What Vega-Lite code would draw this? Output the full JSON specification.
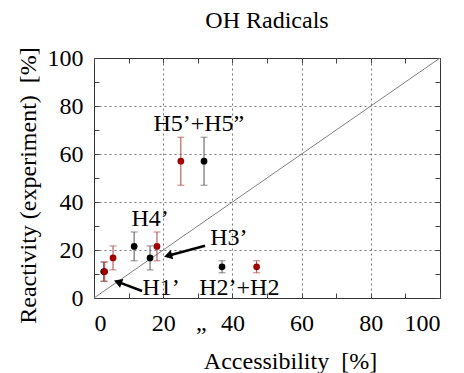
{
  "$schema": "https://vega.github.io/schema/vega-lite/v6.json",
  "width": 346,
  "height": 240,
  "autosize": "none",
  "padding": {"left": 94, "top": 58, "right": 24, "bottom": 75},
  "config": {
    "font": "Liberation Serif",
    "view": {"stroke": "#333333", "strokeWidth": 1},
    "axis": {"labelFont": "Liberation Serif", "titleFont": "Liberation Serif", "labelColor": "#000", "titleColor": "#000", "titleFontWeight": "normal"}
  },
  "title": {"text": "OH Radicals", "fontSize": 24, "font": "Liberation Serif", "fontWeight": "normal", "color": "#000", "baseline": "alphabetic", "offset": 0, "dy": 6},
  "datasets": {
    "pts": [
      {"s": "black", "x": 2.8, "y": 11, "lo": 7, "hi": 15},
      {"s": "red", "x": 3.1, "y": 11, "lo": 7, "hi": 15},
      {"s": "red", "x": 5.5, "y": 16.7, "lo": 11.7, "hi": 21.7},
      {"s": "black", "x": 11.6, "y": 21.5, "lo": 15.5, "hi": 27.5},
      {"s": "black", "x": 16.2, "y": 16.7, "lo": 11.7, "hi": 21.7},
      {"s": "red", "x": 18.2, "y": 21.5, "lo": 15.5, "hi": 27.5},
      {"s": "red", "x": 25.1, "y": 57, "lo": 47, "hi": 67},
      {"s": "black", "x": 31.8, "y": 57, "lo": 47, "hi": 67},
      {"s": "black", "x": 37, "y": 13, "lo": 10.5, "hi": 15.5},
      {"s": "red", "x": 47, "y": 13, "lo": 10.5, "hi": 15.5}
    ],
    "labels": [
      {"t": "H5’+H5”", "x": 30.3, "y": 69.5},
      {"t": "H4’", "x": 16.2, "y": 30.1},
      {"t": "H3’", "x": 39, "y": 22.2},
      {"t": "H1’", "x": 19.4, "y": 1.3},
      {"t": "H2’+H2", "x": 42, "y": 1.3},
      {"t": "„", "x": 31, "y": -13.5}
    ],
    "arrows": [
      {"x": 32.1, "y": 21.8, "x2": 21.4, "y2": 17.6, "a": 254.4},
      {"x": 13.9, "y": 2.9, "x2": 6.9, "y2": 6.7, "a": 290.8}
    ],
    "diag": [{"x": 0, "y": 0}, {"x": 100, "y": 100}]
  },
  "resolve": {"axis": {"x": "independent", "y": "independent"}},
  "layer": [
    {
      "data": {"name": "diag"},
      "mark": {"type": "line", "color": "#808080", "strokeWidth": 1},
      "encoding": {
        "x": {"field": "x", "type": "quantitative", "scale": {"domain": [0, 100], "nice": false, "zero": false},
              "axis": {"orient": "top", "values": [0,10,20,30,40,50,60,70,80,90,100], "labels": false, "grid": false, "domain": false, "tickSize": -5, "tickColor": "#444", "title": null}},
        "y": {"field": "y", "type": "quantitative", "scale": {"domain": [0, 100], "nice": false, "zero": false},
              "axis": {"orient": "right", "values": [0,10,20,30,40,50,60,70,80,90,100], "labels": false, "grid": false, "domain": false, "tickSize": -5, "tickColor": "#444", "title": null}}
      }
    },
    {
      "data": {"name": "pts"},
      "mark": {"type": "rule", "strokeWidth": 1},
      "encoding": {
        "x": {"field": "x", "type": "quantitative",
              "axis": {"orient": "bottom", "values": [0,10,20,30,40,50,60,70,80,90,100],
                       "labelExpr": "datum.value % 20 === 0 ? datum.label : ''",
                       "labelFont": "Liberation Serif", "labelFontSize": 24, "labelColor": "#000", "labelPadding": 18, "domain": false, "tickSize": -5, "tickColor": "#444",
                       "grid": true, "gridDash": [2, 3], "gridColor": "#777",
                       "gridOpacity": {"condition": {"test": "datum.value % 20 !== 0 || datum.value === 0 || datum.value === 100", "value": 0}, "value": 1},
                       "title": "Accessibility\u00a0\u00a0[%]", "titleFont": "Liberation Serif", "titleFontWeight": "normal", "titleColor": "#000", "titleFontSize": 24, "titleX": 196, "titleY": 70, "titleBaseline": "alphabetic"}},
        "y": {"field": "lo", "type": "quantitative",
              "axis": {"orient": "left", "values": [0,10,20,30,40,50,60,70,80,90,100],
                       "labelExpr": "datum.value % 20 === 0 ? datum.label : ''",
                       "labelFont": "Liberation Serif", "labelFontSize": 24, "labelColor": "#000", "labelPadding": 16, "domain": false, "tickSize": -5, "tickColor": "#444",
                       "grid": true, "gridDash": [2, 3], "gridColor": "#777",
                       "gridOpacity": {"condition": {"test": "datum.value % 20 !== 0 || datum.value === 0 || datum.value === 100", "value": 0}, "value": 1},
                       "title": "Reactivity (experiment)\u00a0\u00a0[%]", "titleFont": "Liberation Serif", "titleFontWeight": "normal", "titleColor": "#000", "titleFontSize": 24, "titleX": -59, "titleY": 127, "titleBaseline": "alphabetic"}},
        "y2": {"field": "hi"},
        "color": {"condition": {"test": "datum.s === 'red'", "value": "#b04040"}, "value": "#555555"}
      }
    },
    {
      "data": {"name": "pts"},
      "mark": {"type": "tick", "orient": "horizontal", "size": 7, "thickness": 1},
      "encoding": {
        "x": {"field": "x", "type": "quantitative", "axis": null},
        "y": {"field": "lo", "type": "quantitative", "axis": null},
        "color": {"condition": {"test": "datum.s === 'red'", "value": "#b04040"}, "value": "#555555"}
      }
    },
    {
      "data": {"name": "pts"},
      "mark": {"type": "tick", "orient": "horizontal", "size": 7, "thickness": 1},
      "encoding": {
        "x": {"field": "x", "type": "quantitative", "axis": null},
        "y": {"field": "hi", "type": "quantitative", "axis": null},
        "color": {"condition": {"test": "datum.s === 'red'", "value": "#b04040"}, "value": "#555555"}
      }
    },
    {
      "data": {"name": "pts"},
      "mark": {"type": "point", "filled": true, "size": 45, "opacity": 1},
      "encoding": {
        "x": {"field": "x", "type": "quantitative", "axis": null},
        "y": {"field": "y", "type": "quantitative", "axis": null},
        "color": {"condition": {"test": "datum.s === 'red'", "value": "#a00000"}, "value": "#000000"}
      }
    },
    {
      "data": {"name": "arrows"},
      "mark": {"type": "rule", "strokeWidth": 2.5, "color": "#000"},
      "encoding": {
        "x": {"field": "x", "type": "quantitative", "axis": null},
        "y": {"field": "y", "type": "quantitative", "axis": null},
        "x2": {"field": "x2"},
        "y2": {"field": "y2"}
      }
    },
    {
      "data": {"name": "arrows"},
      "mark": {"type": "point", "shape": "triangle-up", "filled": true, "size": 90, "color": "#000", "opacity": 1},
      "encoding": {
        "x": {"field": "x2", "type": "quantitative", "axis": null},
        "y": {"field": "y2", "type": "quantitative", "axis": null},
        "angle": {"field": "a", "type": "quantitative", "scale": null}
      }
    },
    {
      "data": {"name": "labels"},
      "mark": {"type": "text", "fontSize": 24, "font": "Liberation Serif", "align": "center", "baseline": "alphabetic", "color": "#000"},
      "encoding": {
        "x": {"field": "x", "type": "quantitative", "axis": null},
        "y": {"field": "y", "type": "quantitative", "axis": null},
        "text": {"field": "t"}
      }
    }
  ]
}
